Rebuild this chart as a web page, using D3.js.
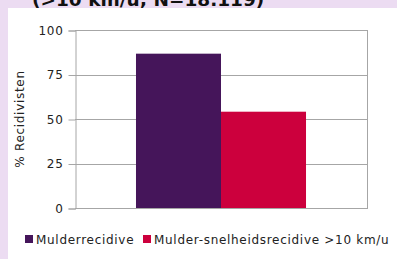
<!DOCTYPE html>
<html>
<head>
<meta charset="utf-8">
<script src="https://cdn.jsdelivr.net/npm/d3@7"></script>
<style>
  body { margin: 0; background: #ecdcf2; }
  svg { display: block; }
</style>
</head>
<body>
<svg id="chart" width="397" height="259"></svg>
<script>
var categories = ["Recidive"];
var seriesNames = ["Mulderrecidive", "Mulder-snelheidsrecidive >10 km/u"];
var seriesValues = [86.7, 54.1];
var seriesColors = ["#45155a", "#cc003d"];
var yTicks = [0, 25, 50, 75, 100];
var titleText = "(>10 km/u; N=18.119)";
var yLabel = "% Recidivisten";

var svg = d3.select("#chart");
var font = "DejaVu Sans, Verdana, sans-serif";

// lavender frame, cut-off title, white panel
svg.append("rect").attr("width", 397).attr("height", 259).attr("fill", "#ecdcf2");
svg.append("text")
  .attr("x", 32).attr("y", 5.5)
  .attr("font-family", font).attr("font-weight", "bold").attr("font-size", 18.5)
  .attr("fill", "#111")
  .text(titleText);
svg.append("rect").attr("x", 8).attr("y", 8).attr("width", 389).attr("height", 251).attr("fill", "#fff");

var plotL = 75, plotR = 367, plotT = 30, plotB = 208;

var y = d3.scaleLinear().domain([0, 100]).range([plotB, plotT]);
var x0 = d3.scaleBand().domain(categories).range([plotL, plotR]).padding(0.264);
var x1 = d3.scaleBand().domain(seriesNames).range([0, x0.bandwidth()]);

// gridlines
svg.append("g").selectAll("line")
  .data(yTicks)
  .enter().append("line")
  .attr("x1", plotL).attr("x2", plotR)
  .attr("y1", function(d) { return Math.round(y(d)) + 0.5; })
  .attr("y2", function(d) { return Math.round(y(d)) + 0.5; })
  .attr("stroke", "#a6a6a6");

// y axis
var yAxis = d3.axisLeft(y).tickValues(yTicks).tickSize(7).tickPadding(5);
var ga = svg.append("g").attr("transform", "translate(" + (plotL + 0.5) + ",0.5)").call(yAxis);
ga.select(".domain").attr("stroke", "#a6a6a6");
ga.selectAll(".tick line").attr("stroke", "#a6a6a6");
ga.selectAll(".tick text").attr("font-family", font).attr("font-size", 12)
  .attr("letter-spacing", 0.7).attr("fill", "#222");

// right border
svg.append("line")
  .attr("x1", plotR + 0.5).attr("x2", plotR + 0.5)
  .attr("y1", y(100)).attr("y2", y(0) + 1)
  .attr("stroke", "#a6a6a6");

// bars
svg.append("g").selectAll("rect")
  .data(seriesValues)
  .enter().append("rect")
  .attr("x", function(d, i) { return x0(categories[0]) + x1(seriesNames[i]); })
  .attr("y", function(d) { return y(d); })
  .attr("width", x1.bandwidth())
  .attr("height", function(d) { return y(0) - y(d); })
  .attr("fill", function(d, i) { return seriesColors[i]; });

// y label
svg.append("text")
  .attr("transform", "translate(24," + ((plotT + plotB) / 2) + ") rotate(-90)")
  .attr("text-anchor", "middle")
  .attr("font-family", font).attr("font-size", 12)
  .attr("letter-spacing", 0.7).attr("fill", "#222")
  .text(yLabel);

// legend
var legendX = [25, 143];
var lg = svg.append("g").selectAll("g")
  .data(seriesNames)
  .enter().append("g")
  .attr("transform", function(d, i) { return "translate(" + legendX[i] + ",235)"; });
lg.append("rect").attr("width", 8).attr("height", 8)
  .attr("fill", function(d, i) { return seriesColors[i]; });
lg.append("text")
  .attr("x", 11).attr("y", 8.5)
  .attr("font-family", font).attr("font-size", 12)
  .attr("letter-spacing", 0.7).attr("fill", "#222")
  .text(function(d) { return d; });
</script>
</body>
</html>
